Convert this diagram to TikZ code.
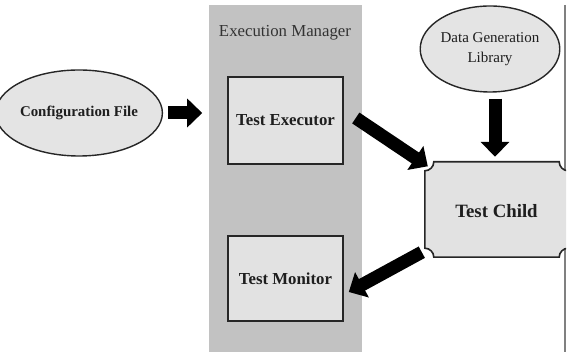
\documentclass[tikz,border=0pt]{standalone}
\usepackage{fontspec}
\setmainfont{Liberation Serif}
\usetikzlibrary{shapes.geometric,arrows.meta,calc}
\definecolor{panelgray}{HTML}{C2C2C2}
\definecolor{boxfill}{HTML}{E2E2E2}
\definecolor{ellfill}{HTML}{E4E4E4}
\definecolor{txt}{HTML}{1E1E1E}
\tikzset{
  panel/.style={fill=panelgray,draw=none,minimum width=153pt,minimum height=347pt,inner sep=0pt},
  procbox/.style={draw=black!85,line width=1.6pt,fill=boxfill,minimum width=115pt,inner sep=0pt,text=txt,font=\bfseries\fontsize{16.8}{18}\selectfont},
  source/.style={ellipse,draw=black!85,line width=1.4pt,fill=ellfill,inner sep=0pt,text=txt},
  blockarrow/.style={line width=13pt,-{Triangle[width=28pt,length=15pt]},black},
}
\begin{document}
\begin{tikzpicture}[x=1pt,y=-1pt]
\useasboundingbox (0,0) rectangle (568,352);
% execution manager panel
\node[panel] (mgr) at (285.5,178.5) {};
\node[text=black!80,font=\fontsize{16.8}{18}\selectfont] (mgrlabel) at (285,33) {Execution Manager};
% right border line
\draw[black!50,line width=1.3pt] (565,5) -- (565,352);
% boxes
\node[procbox,minimum height=87pt] (exec) at (285.5,120.5) {Test Executor};
\node[procbox,minimum height=85pt] (mon) at (285.5,278.5) {Test Monitor};
% ellipses
\node[source,minimum width=136pt,minimum height=86pt,font=\bfseries\fontsize{14.9}{16}\selectfont] (cfg) at (79,113) {Configuration File};
\node[source,minimum width=131pt,minimum height=86pt,align=center,font=\fontsize{15}{20}\selectfont] (dgl) at (490,49) {Data Generation\\Library};
% test child shape
\node[minimum width=143pt,minimum height=95pt,inner sep=0pt,text=txt,font=\bfseries\fontsize{18.8}{20}\selectfont] (child) at (496.5,209.5) {};
\begin{scope}
\clip (0,0) rectangle (566,352);
\def\r{9}
\draw[fill=boxfill,draw=black!85,line width=1.6pt]
  ($(child.north west)+(\r,0)$) -- ($(child.north east)+(-\r,0)$)
  .. controls ($(child.north east)+(-\r,0.552*\r)$) and ($(child.north east)+(-0.552*\r,\r)$) .. ($(child.north east)+(0,\r)$)
  -- ($(child.south east)+(0,-\r)$)
  .. controls ($(child.south east)+(-0.552*\r,-\r)$) and ($(child.south east)+(-\r,-0.552*\r)$) .. ($(child.south east)+(-\r,0)$)
  -- ($(child.south west)+(\r,0)$)
  .. controls ($(child.south west)+(\r,-0.552*\r)$) and ($(child.south west)+(0.552*\r,-\r)$) .. ($(child.south west)+(0,-\r)$)
  -- ($(child.north west)+(0,\r)$)
  .. controls ($(child.north west)+(0.552*\r,\r)$) and ($(child.north west)+(\r,0.552*\r)$) .. cycle;
\end{scope}
\node[text=txt,font=\bfseries\fontsize{18.8}{20}\selectfont] (childlabel) at ($(child.center)+(0,1.5)$) {Test Child};
% arrows
\draw[blockarrow] ($(cfg.east)+(5,0)$) -- ($(exec.west)+(-25,-7.5)$);
\draw[blockarrow] ($(exec.east)+(12,-2.5)$) -- ($(child.north west)+(3,4.5)$);
\draw[blockarrow] ($(dgl.south)+(5,6)$) -- ($(child.north)+(-1.5,-5)$);
\draw[blockarrow] ($(child.south west)+(-3,-5)$) -- ($(mon.east)+(5,13.5)$);
\end{tikzpicture}
\end{document}
